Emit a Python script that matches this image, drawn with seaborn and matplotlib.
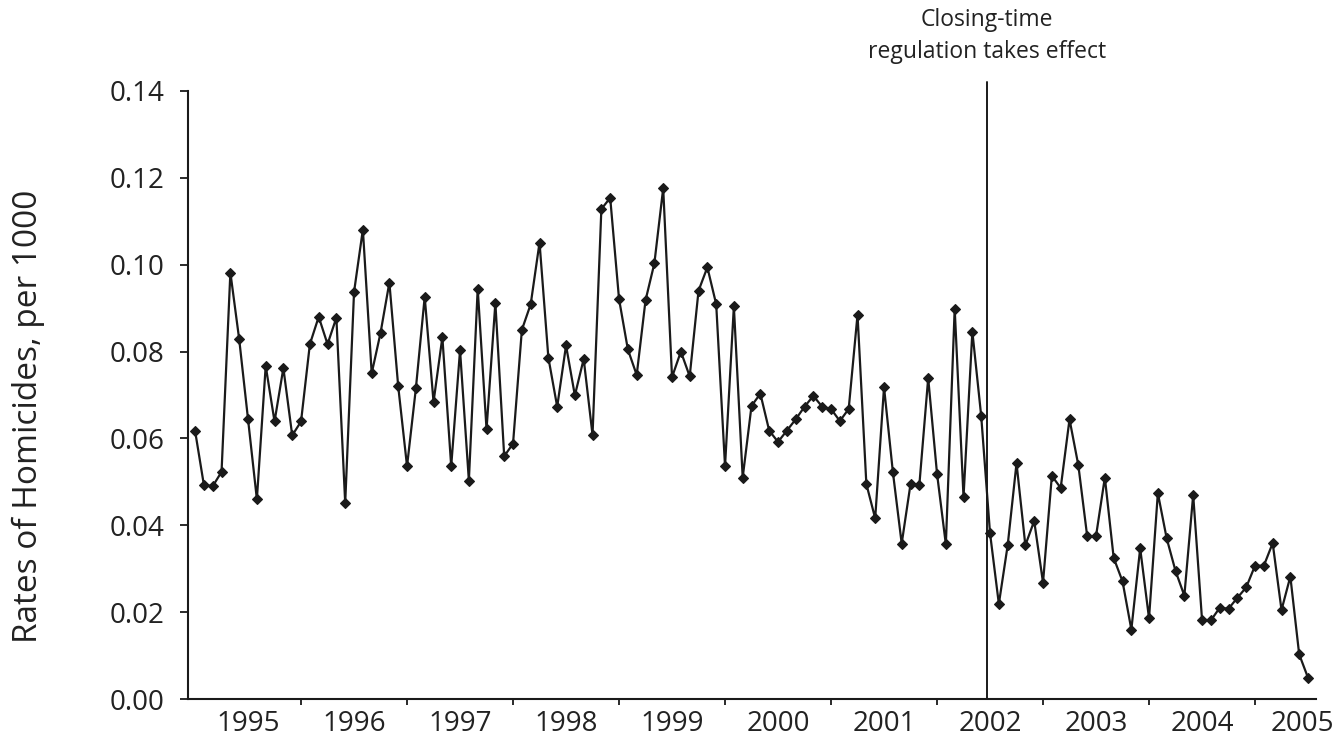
import numpy as np
import pandas as pd
import matplotlib
matplotlib.use("Agg")
import matplotlib.pyplot as plt
import matplotlib.transforms as mtransforms
from matplotlib.ticker import FixedLocator, FormatStrFormatter
import seaborn as sns

# ---- data (monthly rates, Jan 1995 .. Jul 2005) ----
rates = [
    0.0618, 0.0493, 0.0490, 0.0523, 0.0982, 0.0828, 0.0644, 0.0460, 0.0767, 0.0639, 0.0762, 0.0607,
    0.0639, 0.0817, 0.0880, 0.0817, 0.0878, 0.0451, 0.0937, 0.1081, 0.0750, 0.0843, 0.0959, 0.0720,
    0.0536, 0.0715, 0.0926, 0.0684, 0.0833, 0.0536, 0.0803, 0.0503, 0.0945, 0.0621, 0.0912, 0.0559,
    0.0588, 0.0850, 0.0909, 0.1051, 0.0786, 0.0673, 0.0814, 0.0699, 0.0783, 0.0608, 0.1128, 0.1154,
    0.0921, 0.0805, 0.0746, 0.0918, 0.1003, 0.1176, 0.0741, 0.0800, 0.0743, 0.0940, 0.0994, 0.0909,
    0.0536, 0.0904, 0.0510, 0.0675, 0.0703, 0.0618, 0.0592, 0.0618, 0.0644, 0.0673, 0.0698, 0.0673,
    0.0668, 0.0640, 0.0668, 0.0885, 0.0495, 0.0416, 0.0718, 0.0523, 0.0358, 0.0495, 0.0493, 0.0739,
    0.0519, 0.0356, 0.0899, 0.0465, 0.0846, 0.0652, 0.0382, 0.0219, 0.0354, 0.0543, 0.0354, 0.0410,
    0.0268, 0.0514, 0.0486, 0.0644, 0.0538, 0.0375, 0.0375, 0.0510, 0.0325, 0.0271, 0.0160, 0.0347,
    0.0186, 0.0474, 0.0370, 0.0295, 0.0238, 0.0470, 0.0183, 0.0181, 0.0210, 0.0208, 0.0233, 0.0257,
    0.0307, 0.0307, 0.0359, 0.0205, 0.0282, 0.0103, 0.0049,
]
year_labels = ["1995", "1996", "1997", "1998", "1999", "2000",
               "2001", "2002", "2003", "2004", "2005"]
y_ticks = [0.00, 0.02, 0.04, 0.06, 0.08, 0.10, 0.12, 0.14]
regulation_month = 89.7
annotation_text = "Closing-time\nregulation takes effect"
y_label = "Rates of Homicides, per 1000"

# ---- style ----
sns.set_theme(style="ticks")
plt.rcParams["font.family"] = ["Open Sans", "DejaVu Sans"]
ink = "#1a1a1a"

fig = plt.figure(figsize=(13.36, 7.45), dpi=100)
fig.patch.set_facecolor("white")
ax = fig.add_axes([0.1407, 0.0617, 0.8443, 0.8162])
ax.set_facecolor("white")

df = pd.DataFrame({"month": np.arange(len(rates)), "rate": rates})
sns.lineplot(data=df, x="month", y="rate", ax=ax, color=ink, linewidth=1.6,
             marker="D", markersize=5.5, markerfacecolor=ink,
             markeredgecolor=ink, markeredgewidth=0.8)

ax.set_xlim(-0.8, 126.9)
ax.set_ylim(0, 0.14)

# vertical regulation line, reaching a bit above the plot
ax.axvline(regulation_month, ymin=0, ymax=1.015, color=ink, lw=1.4, clip_on=False)
trans = mtransforms.blended_transform_factory(ax.transData, fig.transFigure)
ax.text(regulation_month, 1 - 36 / 745, annotation_text, transform=trans,
        ha="center", va="center", fontsize=16.5, color="#222222", linespacing=1.45)

# axes decoration
sns.despine(ax=ax)
for side in ("left", "bottom"):
    ax.spines[side].set_linewidth(1.5)
    ax.spines[side].set_color(ink)

ax.yaxis.set_major_locator(FixedLocator(y_ticks))
ax.yaxis.set_major_formatter(FormatStrFormatter("%.2f"))
ax.tick_params(axis="y", direction="out", length=6, width=1.3, color=ink,
               labelsize=20, labelcolor="#222222", pad=11)

label_pos = [6 + 12 * k for k in range(len(year_labels))]
tick_pos = [12 * k for k in range(1, len(year_labels))]
ax.xaxis.set_major_locator(FixedLocator(label_pos))
ax.set_xticklabels(year_labels)
ax.xaxis.set_minor_locator(FixedLocator(tick_pos))
ax.tick_params(axis="x", which="major", length=0, labelsize=20,
               labelcolor="#222222", pad=8)
ax.tick_params(axis="x", which="minor", direction="out", length=4, width=1.3, color=ink)

# nudge the last year label so it stays inside the canvas
last = ax.get_xticklabels()[-1]
last.set_transform(last.get_transform() +
                   mtransforms.ScaledTranslation(-6 / 100, 0, fig.dpi_scale_trans))

ax.set_xlabel("")
ax.set_ylabel("")
fig.text(28 / 1336, 1 - 416 / 745, y_label, rotation=90, ha="center", va="center",
         fontsize=24, color="#222222")

fig.savefig("out.png", dpi=100, facecolor="white")
